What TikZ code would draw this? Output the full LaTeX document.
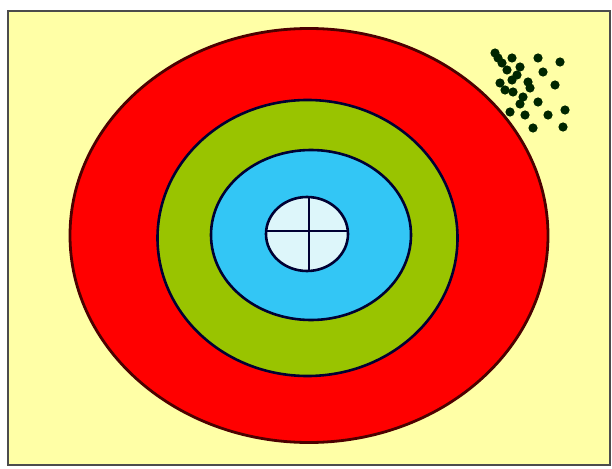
\documentclass[tikz,border=0pt]{standalone}
\begin{document}
\begin{tikzpicture}[x=1pt,y=-1pt,
  ring/.style={draw=black!70!red, line width=2.8pt},
  edge/.style={draw=black!80!blue, line width=2.6pt},
  dot/.style={fill=black!85!green, draw=none}]
\definecolor{bgyellow}{HTML}{FFFFA6}
\definecolor{ringred}{HTML}{FF0000}
\definecolor{ringgreen}{HTML}{99C400}
\definecolor{ringblue}{HTML}{33C6F5}
\definecolor{bullcyan}{HTML}{DDF6FA}
\useasboundingbox (0,0) rectangle (612,468);
\fill[white] (0,0) rectangle (612,468);
\draw[fill=bgyellow, draw=black!70, line width=2.5pt] (8,11) rectangle (610,465);
\fill[ringred] (309,235.5) ellipse [x radius=239, y radius=207];
\draw[ring] (309,235.5) ellipse [x radius=239, y radius=207];
\draw[edge, fill=ringgreen] (307.5,238) ellipse [x radius=150, y radius=138];
\draw[edge, fill=ringblue] (311,235) ellipse [x radius=100, y radius=85];
\draw[edge, fill=bullcyan] (307,234) ellipse [x radius=41, y radius=37];
\coordinate (vt) at (309,197);
\coordinate (vb) at (309,271);
\coordinate (hl) at (266,231);
\coordinate (hr) at (348,231);
\draw[edge] (vt) -- (vb);
\draw[edge] (hl) -- (hr);
\foreach \p in {(495,53),(502,63),(512,58),(538,58),(560,62),(520,67),(543,72),
  (500,83),(512,80),(528,82),(513,92),(523,97),(555,85),(538,102),(510,112),
  (525,115),(548,115),(565,110),(563,127),(533,128),(498,58),(507,70),(517,75),
  (530,88),(505,90),(520,104)}
  \fill[dot] \p circle (4.6);
\end{tikzpicture}
\end{document}
